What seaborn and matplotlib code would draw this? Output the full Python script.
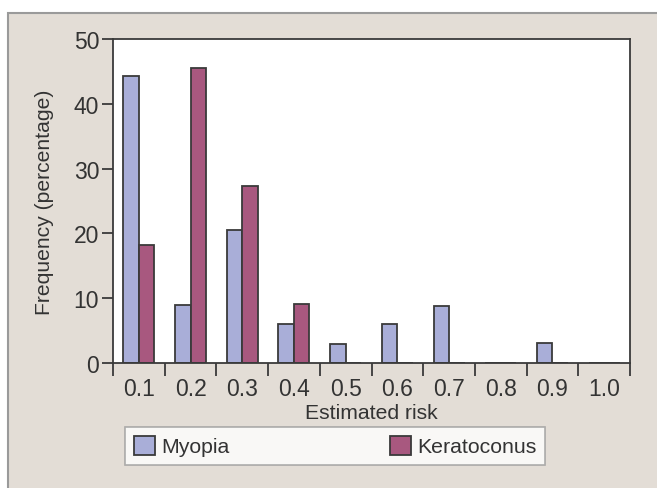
import pandas as pd
import seaborn as sns
import matplotlib.pyplot as plt
from matplotlib.patches import Rectangle

# data
risk = ['0.1', '0.2', '0.3', '0.4', '0.5', '0.6', '0.7', '0.8', '0.9', '1.0']
myopia = [44.3, 8.9, 20.6, 6.0, 3.0, 6.0, 8.8, 0, 3.1, 0]
keratoconus = [18.2, 45.5, 27.3, 9.1, 0, 0, 0, 0, 0, 0]

df = pd.DataFrame({
    'risk': risk * 2,
    'freq': myopia + keratoconus,
    'group': ['Myopia'] * len(risk) + ['Keratoconus'] * len(risk),
})

sns.set_style('white')
plt.rcParams['font.family'] = ['Liberation Sans', 'DejaVu Sans']

fig = plt.figure(figsize=(6.57, 4.89), dpi=100)
fig.patch.set_facecolor('white')
# beige panel with grey border
fig.add_artist(Rectangle((8/657, -0.1), 1.2, 0.1 + 1 - 14/489, transform=fig.transFigure,
                         facecolor='#e3ddd6', edgecolor='#9a9a9a', lw=1.5, zorder=0))

ax = fig.add_axes([113/657, 1 - 364/489, 517/657, 324/489])
pal = {'Myopia': '#a9aed8', 'Keratoconus': '#a8587f'}
sns.barplot(data=df, x='risk', y='freq', hue='group', palette=pal, width=0.6,
            edgecolor='#3a3a3a', linewidth=1.3, saturation=1, ax=ax)
ax.set_facecolor('white')
ax.set_xlim(-0.5, 9.5)
ax.set_ylim(0, 50)
ax.set_yticks([0, 10, 20, 30, 40, 50])

for s in ax.spines.values():
    s.set_color('#3a3a3a')
    s.set_linewidth(1.3)

ax.set_xticks(range(len(risk)))
ax.set_xticklabels(risk)
ax.set_xticks([i - 0.5 for i in range(len(risk) + 1)], minor=True)
ax.tick_params(axis='x', which='major', length=0, pad=10, labelsize=16.5, colors='#333333')
ax.tick_params(axis='x', which='minor', length=9, width=1.3, color='#3a3a3a', direction='out', bottom=True)
ax.tick_params(axis='y', length=8, width=1.3, color='#3a3a3a', direction='out', left=True,
               labelsize=16.5, pad=2, labelcolor='#333333')

ax.set_xlabel('Estimated risk', fontsize=15.2, color='#333333', labelpad=2)
ax.set_ylabel('Frequency (percentage)', fontsize=15.2, color='#333333', labelpad=14)

handles, labels = ax.get_legend_handles_labels()
ax.get_legend().remove()
leg = fig.legend(handles, labels, loc='lower left', ncol=2, mode='expand',
                 bbox_to_anchor=(125/657, 1 - 466/489, 420/657, 34/489),
                 fontsize=15.3, frameon=True, fancybox=False, handlelength=1.0,
                 handleheight=1.0, handletextpad=0.3, borderaxespad=0, borderpad=0.4)
leg.get_frame().set_edgecolor('#9a9a9a')
leg.get_frame().set_linewidth(1.2)
for t in leg.get_texts():
    t.set_color('#333333')

fig.savefig('out.png', dpi=100)
